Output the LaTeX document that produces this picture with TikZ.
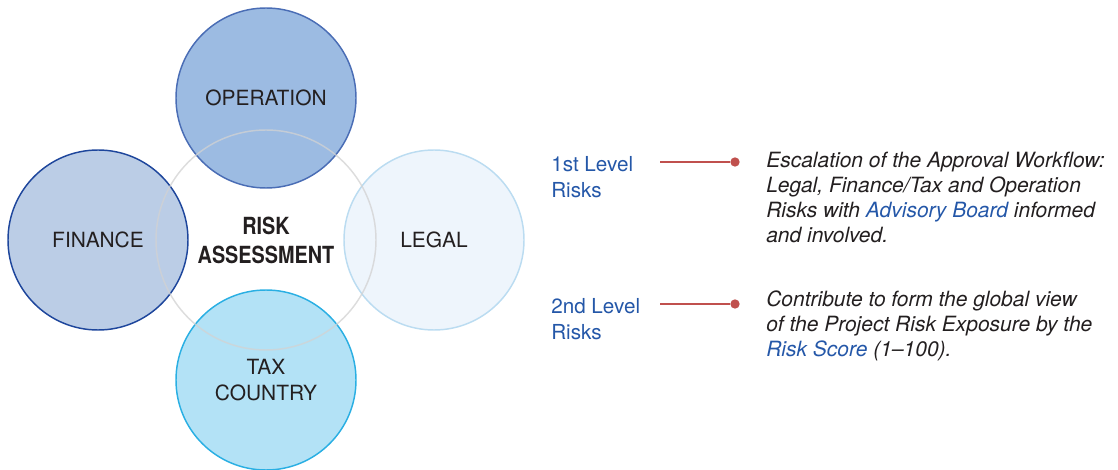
\documentclass[tikz,border=0pt]{standalone}
\usepackage{fontspec}
\setmainfont{TeX Gyre Heros}
\newfontfamily\condfont[FakeStretch=0.84]{TeX Gyre Heros}
\usetikzlibrary{positioning}
\definecolor{opfill}{HTML}{9CBBE2}
\definecolor{opline}{HTML}{4A6DB5}
\definecolor{finfill}{HTML}{BBCDE6}
\definecolor{finline}{HTML}{1E469C}
\definecolor{legfill}{HTML}{EEF5FC}
\definecolor{legline}{HTML}{BBDCF1}
\definecolor{taxfill}{HTML}{B3E2F6}
\definecolor{taxline}{HTML}{2AAFE3}
\definecolor{ringgray}{HTML}{D2D2D2}
\definecolor{txtdark}{HTML}{231F20}
\definecolor{txtblue}{HTML}{2457A8}
\definecolor{redline}{HTML}{C0504D}

\begin{document}
\begin{tikzpicture}[
    x=0.75pt, y=-0.75pt,
    area/.style={circle, minimum size=135pt, line width=1.1pt,
      text=txtdark, align=center,
      font=\fontsize{15.7}{19.2}\selectfont},
    level/.style={anchor=north west, inner sep=0pt, align=left,
      text=txtblue, font=\fontsize{15.5}{20}\selectfont},
    note/.style={anchor=north west, inner sep=0pt, align=left,
      text=txtdark, font=\fontsize{15.75}{18.75}\selectfont\itshape},
    dotend/.style={circle, fill=redline, inner sep=0pt, minimum size=7pt},
    link/.style={redline, line width=0.8pt}
    ]

    \useasboundingbox (0,0) rectangle (1118,470);

    \node[area, fill=opfill, draw=opline] (oper) at (266,98) {OPERATION};
    \node[area, fill=finfill, draw=finline] (fin) at (98,240) {FINANCE};
    \node[area, fill=legfill, draw=legline] (leg) at (434,240) {LEGAL};
    \node[area, fill=taxfill, draw=taxline] (tax) at (266,380) {TAX\\COUNTRY};

    \node[circle, minimum size=165pt, draw=ringgray, draw opacity=0.75,
      line width=1.1pt, text=txtdark, align=center,
      font=\condfont\bfseries\fontsize{17.7}{21.75}\selectfont]
      (risk) at (266,240) {RISK\\ASSESSMENT};

    \node[level] (lvl1) at (551,156) {1st Level\\Risks};
    \node[dotend] (dot1) at (735,162) {};
    \coordinate (s1) at (660,162);
    \draw[link] (s1) -- (dot1);
    \node[note] (note1) at (766,152)
    {Escalation of the Approval Workflow:\\
     Legal, Finance/Tax and Operation\\
     Risks with \textcolor{txtblue}{Advisory Board} informed\\
     and involved.};

    \node[level] (lvl2) at (551,298) {2nd Level\\Risks};
    \node[dotend] (dot2) at (735,304) {};
    \coordinate (s2) at (660,304);
    \draw[link] (s2) -- (dot2);
    \node[note] (note2) at (766,291)
    {Contribute to form the global view\\
     of the Project Risk Exposure by the\\
     \textcolor{txtblue}{Risk Score} (1--100).};

\end{tikzpicture}
\end{document}
